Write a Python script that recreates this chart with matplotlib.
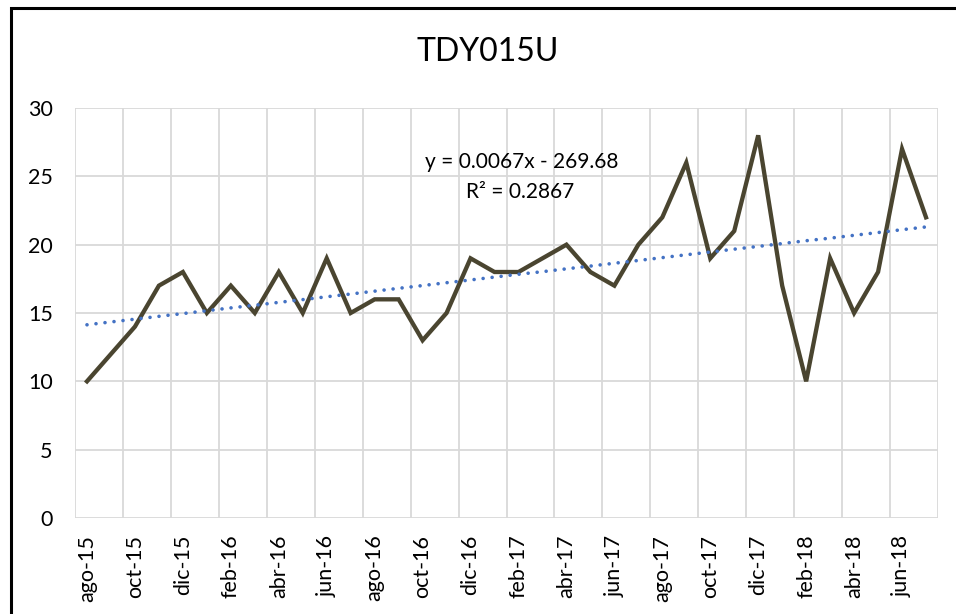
import matplotlib
matplotlib.use("Agg")
import matplotlib.pyplot as plt
from matplotlib.patches import Rectangle
import numpy as np
import pandas as pd

plt.rcParams['font.family'] = ['Lato', 'DejaVu Sans']

# monthly values, ago-15 .. jul-18
dates = pd.date_range("2015-08-01", "2018-07-01", freq="MS")
values = [10, 12, 14, 17, 18, 15, 17, 15, 18, 15, 19, 15,
          16, 16, 13, 15, 19, 18, 18, 19, 20, 18, 17, 20,
          22, 26, 19, 21, 28, 17, 10, 19, 15, 18, 27, 22]
tick_labels = ["ago-15", "oct-15", "dic-15", "feb-16", "abr-16", "jun-16",
               "ago-16", "oct-16", "dic-16", "feb-17", "abr-17", "jun-17",
               "ago-17", "oct-17", "dic-17", "feb-18", "abr-18", "jun-18"]
title = "TDY015U"
eq_text = "y = 0.0067x - 269.68"
r2_text = "R² = 0.2867"

x = np.arange(len(values))
days = (dates - pd.Timestamp("1899-12-30")).days.values.astype(float)
coef = np.polyfit(days, values, 1)
trend = np.polyval(coef, days)

fig = plt.figure(figsize=(9.56, 6.14), dpi=100)
ax = fig.add_axes([75/956, 96/614, 863/956, 410/614])

ax.plot(x, values, color="#4A4530", lw=3.1, solid_joinstyle="miter", zorder=3)
ax.plot(x, trend, color="#4472C4", lw=2.6, linestyle=(0, (0.01, 2.5)),
        dash_capstyle="round", zorder=4)

ax.set_xlim(-0.5, len(values) - 0.5)
ax.set_ylim(0, 30)
ax.set_yticks(np.arange(0, 31, 5))
ax.set_xticks(np.arange(0, len(values), 2))
ax.set_xticklabels(tick_labels, rotation=90, fontsize=15.5)
ax.tick_params(axis="y", labelsize=15.5, length=0, pad=16)
ax.tick_params(axis="x", length=0, pad=12)

for v in np.arange(-0.5, len(values), 2):
    ax.axvline(v, color="#D9D9D9", lw=1.3, zorder=1)
for h in np.arange(0, 31, 5):
    ax.axhline(h, color="#D9D9D9", lw=1.3, zorder=1)
for s in ax.spines.values():
    s.set_visible(False)

ax.text(0.518, 0.868, eq_text, transform=ax.transAxes, ha="center", va="center", fontsize=15)
ax.text(0.516, 0.795, r2_text, transform=ax.transAxes, ha="center", va="center", fontsize=15)

fig.text(488/956, 1 - 52/614, title, ha="center", va="center", fontsize=23)

fig.add_artist(Rectangle((11/956, -0.1), 1.2, 1.1 - 8/614, transform=fig.transFigure,
                         fill=False, ec="black", lw=2.2))

fig.savefig("out.png", dpi=100)
